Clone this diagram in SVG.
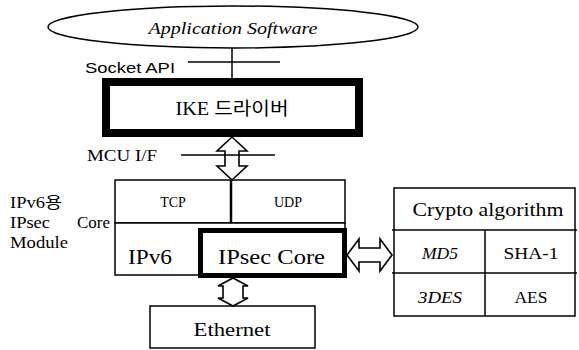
<svg xmlns="http://www.w3.org/2000/svg" width="579" height="350" viewBox="0 0 579 350">
<style>
.bx{fill:#fff;stroke:#000;stroke-width:1.5}
.thick{fill:#fff;stroke:#000}
.ln{stroke:#000;stroke-width:1.5;fill:none}
.arr{fill:#fff;stroke:#000;stroke-width:1.6;stroke-linejoin:miter}
.s{font-family:"Liberation Serif","Noto Sans CJK KR",serif;fill:#000}
.ss{font-family:"Liberation Sans","Noto Sans CJK KR",sans-serif;fill:#000}
.m{text-anchor:middle}
</style>
<rect width="579" height="350" fill="#fff"/>
<g id="app">
<ellipse cx="233" cy="27" rx="185" ry="21" class="bx"/>
<text x="233" y="34" class="s m" font-size="16" font-style="italic" textLength="169" lengthAdjust="spacingAndGlyphs">Application Software</text>
</g>
<g id="ike">
<rect x="106" y="82" width="253" height="51" class="thick" stroke-width="8"/>
<text x="232" y="115" class="s m" font-size="18" textLength="113" lengthAdjust="spacingAndGlyphs">IKE 드라이버</text>
</g>
<g id="module">
<rect x="115" y="180" width="230" height="43" class="bx"/>
<rect x="115" y="223" width="230" height="52" class="bx"/>
<line x1="231" y1="180" x2="231" y2="223" stroke="#000" stroke-width="2.5"/>
<text x="173" y="207" class="s m" font-size="14">TCP</text>
<text x="288" y="207" class="s m" font-size="14">UDP</text>
<text x="150" y="264" class="s m" font-size="21" textLength="44" lengthAdjust="spacingAndGlyphs">IPv6</text>
</g>
<g id="ipsec">
<rect x="200.5" y="230.5" width="144" height="45" class="thick" stroke-width="5"/>
<text x="271.5" y="264" class="s m" font-size="21" textLength="107" lengthAdjust="spacingAndGlyphs">IPsec Core</text>
</g>
<g id="module-label">
<text x="10" y="208" class="s" font-size="16" textLength="52" lengthAdjust="spacingAndGlyphs">IPv6용</text>
<text x="10" y="228" class="s" font-size="16" textLength="40" lengthAdjust="spacingAndGlyphs">IPsec</text>
<text x="77" y="228" class="s" font-size="16" textLength="33" lengthAdjust="spacingAndGlyphs">Core</text>
<text x="10" y="248" class="s" font-size="16" textLength="58" lengthAdjust="spacingAndGlyphs">Module</text>
</g>
<g id="crypto">
<rect x="394" y="188" width="181" height="128" class="bx" stroke-width="4"/>
<line x1="392" y1="230" x2="577" y2="230" class="ln" stroke-width="2"/>
<line x1="392" y1="273" x2="577" y2="273" class="ln" stroke-width="2"/>
<line x1="485" y1="230" x2="485" y2="316" class="ln" stroke-width="2"/>
<text x="488" y="216" class="s m" font-size="18" textLength="151" lengthAdjust="spacingAndGlyphs">Crypto algorithm</text>
<text x="440" y="259" class="s m" font-size="16" font-style="italic" textLength="36" lengthAdjust="spacingAndGlyphs">MD5</text>
<text x="531" y="259" class="s m" font-size="16" textLength="55" lengthAdjust="spacingAndGlyphs">SHA-1</text>
<text x="440" y="303" class="s m" font-size="16" font-style="italic" textLength="44" lengthAdjust="spacingAndGlyphs">3DES</text>
<text x="531" y="303" class="s m" font-size="16" textLength="33" lengthAdjust="spacingAndGlyphs">AES</text>
</g>
<g id="ethernet">
<rect x="150" y="306" width="165" height="42" class="bx"/>
<text x="232" y="336" class="s m" font-size="19" textLength="77" lengthAdjust="spacingAndGlyphs">Ethernet</text>
</g>
<g id="connectors">
<line x1="232" y1="48" x2="232" y2="78" class="ln"/>
<line x1="188" y1="62" x2="280" y2="62" class="ln"/>
<text x="85" y="73" class="ss" font-size="15" textLength="90" lengthAdjust="spacingAndGlyphs">Socket API</text>
<polygon points="232,137 247,151 239,151 239,166 247,166 232,180 217,166 225,166 225,151 217,151" class="arr"/>
<line x1="181" y1="155" x2="275" y2="155" class="ln"/>
<text x="87" y="161" class="s" font-size="17" textLength="70" lengthAdjust="spacingAndGlyphs">MCU I/F</text>
<polygon points="347,255 359,239 359,248 380,248 380,239 392,255 380,271 380,262 359,262 359,271" class="arr"/>
<polygon points="233,278 248,286 243,286 243,298 248,298 233,306 218,298 223,298 223,286 218,286" class="arr"/>
</g>
</svg>
